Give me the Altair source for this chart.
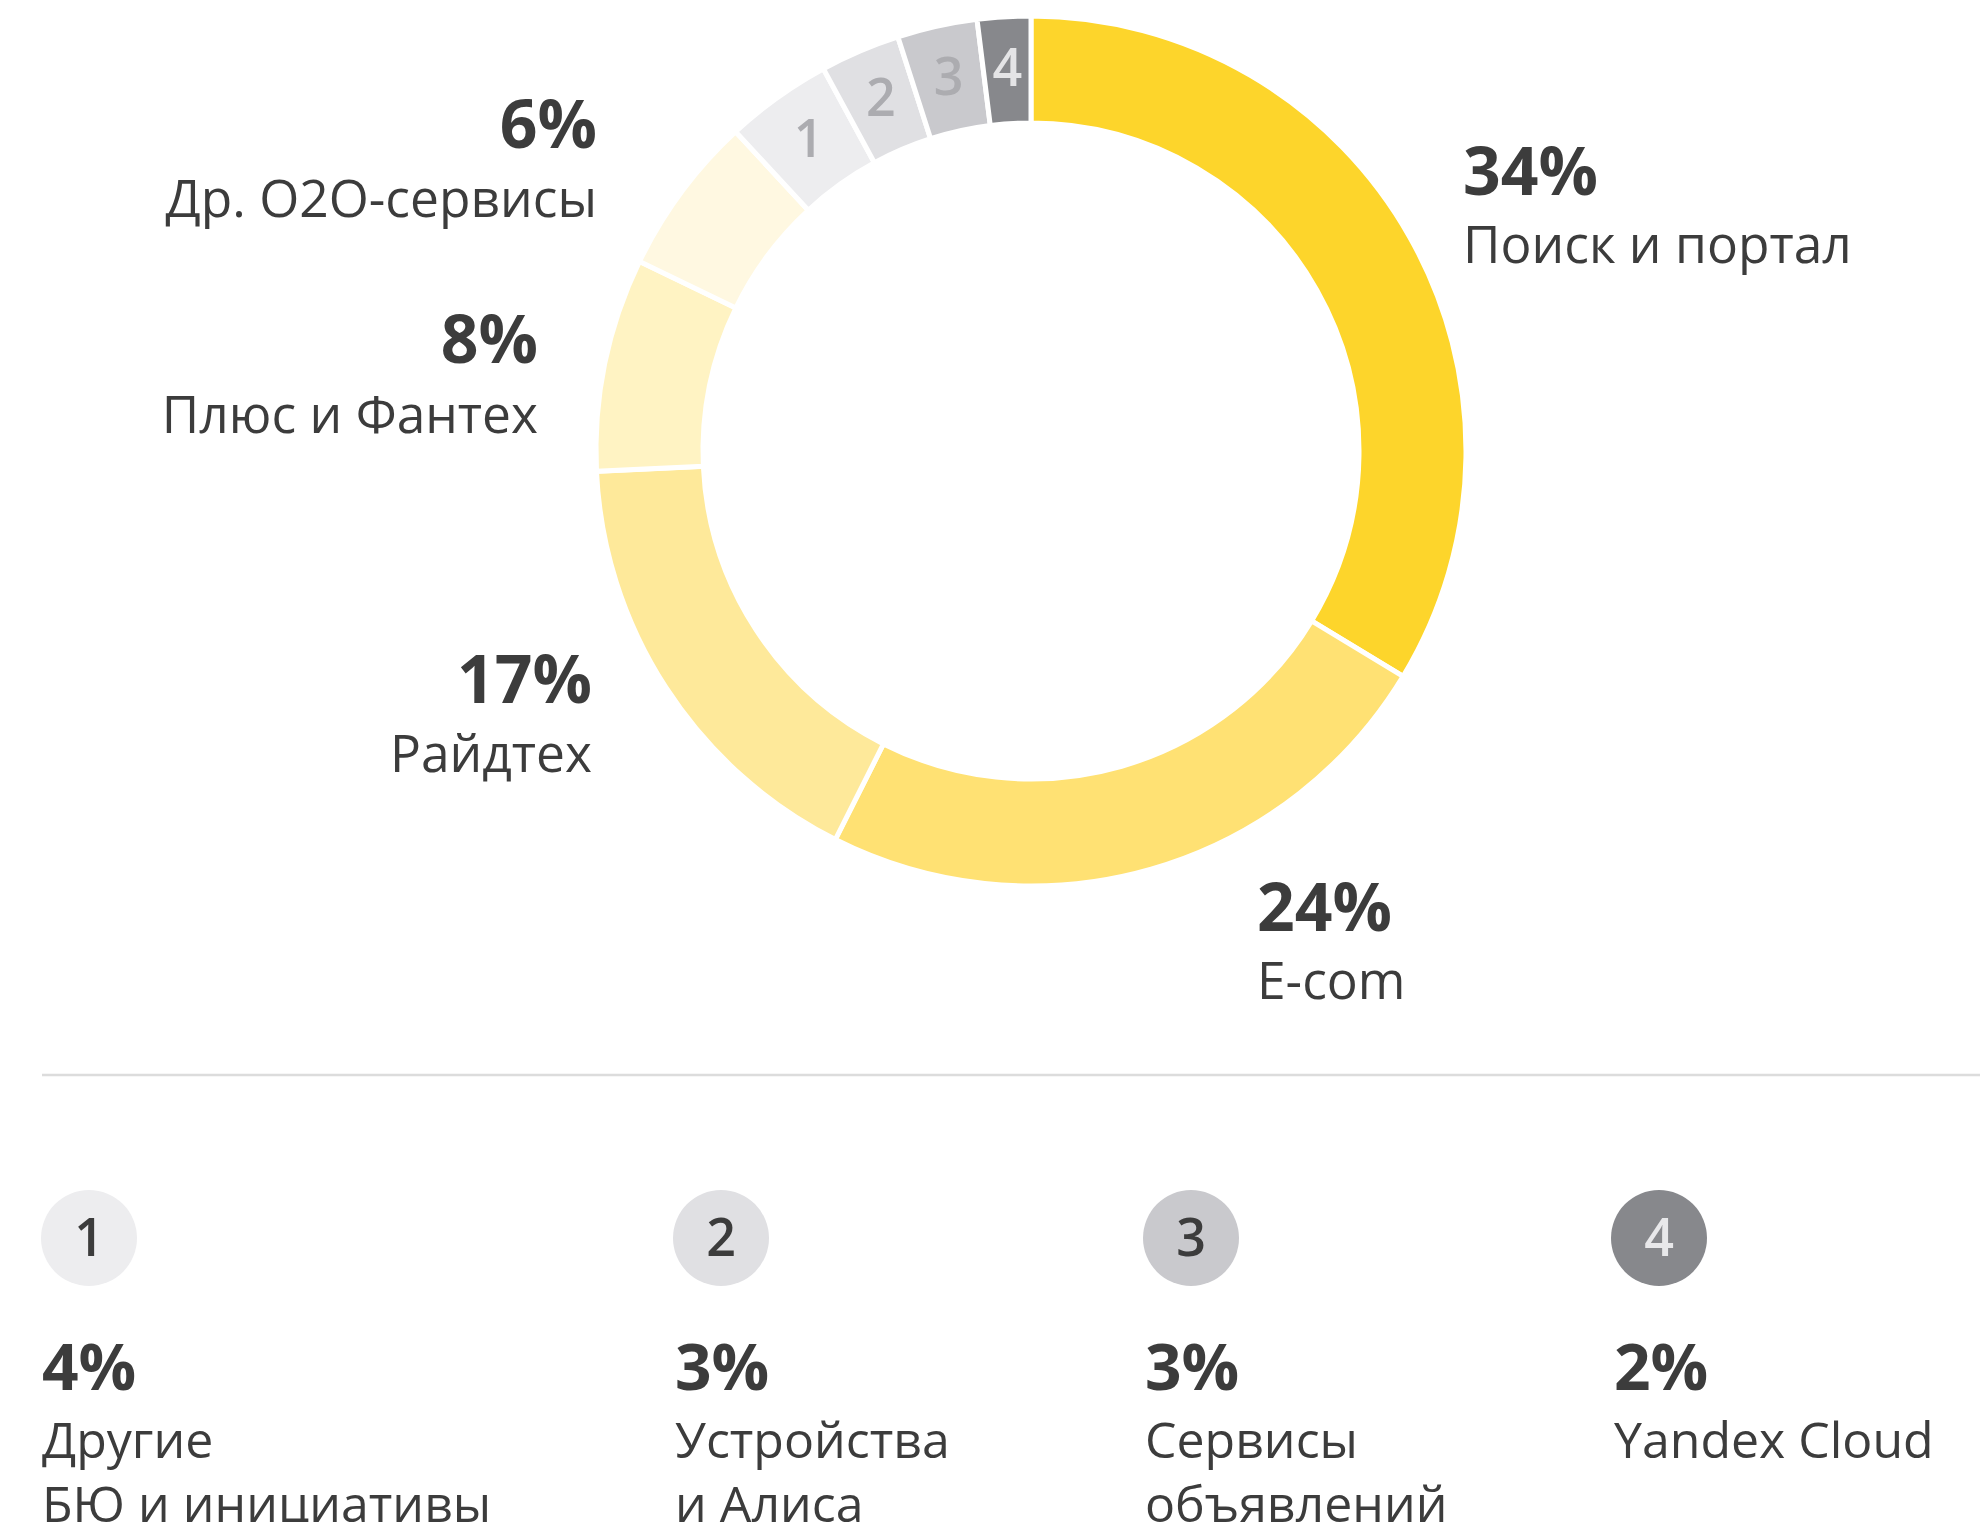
import altair as alt
import pandas as pd

# ---- data ----
categories = ["Поиск и портал", "E-com", "Райдтех", "Плюс и Фантех", "Др. O2O-сервисы",
              "Другие БЮ и инициативы", "Устройства и Алиса", "Сервисы объявлений", "Yandex Cloud"]
shares = [34, 24, 17, 8, 6, 4, 3, 3, 2]
markers = ["", "", "", "", "", "1", "2", "3", "4"]
seg_colors = ["#FDD52B", "#FFE173", "#FEE99A", "#FFF3C3", "#FFF8E1",
              "#EDEDEF", "#E0E0E3", "#C9C9CD", "#87888C"]
marker_colors = ["#FFFFFF", "#FFFFFF", "#FFFFFF", "#FFFFFF", "#FFFFFF",
                 "#ACACB0", "#ACACB0", "#ACACB0", "#E4E4E6"]
legend_num_colors = ["#3C3C3C", "#3C3C3C", "#3C3C3C", "#E8E8EA"]

# names split into lines as in the reference
outer_lines = [["Поиск и портал"], ["E-com"], ["Райдтех"], ["Плюс и Фантех"], ["Др. O2O-сервисы"]]
legend_lines = [["Другие", "БЮ и инициативы"], ["Устройства", "и Алиса"],
                ["Сервисы", "объявлений"], ["Yandex Cloud"]]

# ---- layout (page pixels, chart origin is at page (8, 8)) ----
M = 8
CX, CY = 1031 - M, 451 - M
R_OUT, R_IN = 435, 328
# anchor x, percent baseline, name baseline, side
outer_layout = [(1463, 195, 263, "left"), (1257, 931, 999, "left"),
                (592, 703, 772, "right"), (538, 363, 433, "right"),
                (597, 148, 217, "right")]
legend_text_x = [42, 675, 1145, 1614]
legend_circle_x = [89, 721, 1191, 1659]
LEG_CY = 1238
LEG_R = 48
LEG_PCT_Y = 1390
LEG_LINE_Y = [1458, 1522]

FONT = "Open Sans"
DARK = "#3C3C3C"

donut_df = pd.DataFrame({
    "idx": list(range(len(categories))),
    "cat": categories,
    "share": shares,
    "marker": markers,
    "color": seg_colors,
    "mcolor": marker_colors,
})

pct_rows, name_rows = [], []
for i in range(5):
    x, yp, yn, side = outer_layout[i]
    pct_rows.append({"x": x - M, "y": yp - M, "t": f"{shares[i]}%", "side": side, "grp": "top"})
    for k, ln in enumerate(outer_lines[i]):
        name_rows.append({"x": x - M, "y": yn - M, "t": ln, "side": side, "grp": "top"})
for j in range(4):
    i = 5 + j
    pct_rows.append({"x": legend_text_x[j] - M, "y": LEG_PCT_Y - M, "t": f"{shares[i]}%",
                     "side": "left", "grp": "legend"})
    for k, ln in enumerate(legend_lines[j]):
        name_rows.append({"x": legend_text_x[j] - M, "y": LEG_LINE_Y[k] - M, "t": ln,
                          "side": "left", "grp": "legend"})
pct_df = pd.DataFrame(pct_rows)
name_df = pd.DataFrame(name_rows)

leg_df = pd.DataFrame({
    "x": [v - M for v in legend_circle_x],
    "y": [LEG_CY - M] * 4,
    "num": markers[5:],
    "fill": seg_colors[5:],
    "ncol": legend_num_colors,
})

base = alt.Chart(donut_df)
arcs = base.mark_arc(outerRadius=R_OUT, innerRadius=R_IN, stroke="white", strokeWidth=5).encode(
    theta=alt.Theta("share:Q", stack=True),
    order=alt.Order("idx:Q"),
    color=alt.Color("color:N", scale=None),
    x=alt.value(CX), y=alt.value(CY),
)
seg_text = base.mark_text(radius=(R_OUT + R_IN) / 2, font=FONT, fontSize=52, fontWeight=600).encode(
    theta=alt.Theta("share:Q", stack=True),
    order=alt.Order("idx:Q"),
    text="marker:N",
    color=alt.Color("mcolor:N", scale=None),
    x=alt.value(CX), y=alt.value(CY),
)

def text_layer(df, side, grp, size, weight):
    return alt.Chart(df).transform_filter(
        (alt.datum.side == side) & (alt.datum.grp == grp)
    ).mark_text(
        align=side, baseline="alphabetic", font=FONT, fontSize=size, fontWeight=weight, color=DARK
    ).encode(
        x=alt.X("x:Q", scale=None),
        y=alt.Y("y:Q", scale=None),
        text="t:N",
    )

pct_l = text_layer(pct_df, "left", "top", 66, "bold")
pct_r = text_layer(pct_df, "right", "top", 66, "bold")
name_l = text_layer(name_df, "left", "top", 51.5, "normal")
name_r = text_layer(name_df, "right", "top", 51.5, "normal")
pct_leg = text_layer(pct_df, "left", "legend", 64, "bold")
name_leg = text_layer(name_df, "left", "legend", 50, "normal")

circles = alt.Chart(leg_df).mark_circle(size=(2 * LEG_R) ** 2, opacity=1).encode(
    x=alt.X("x:Q", scale=None), y=alt.Y("y:Q", scale=None),
    color=alt.Color("fill:N", scale=None),
)
circle_nums = alt.Chart(leg_df).mark_text(font=FONT, fontSize=52, fontWeight=600, baseline="middle", dy=2).encode(
    x=alt.X("x:Q", scale=None), y=alt.Y("y:Q", scale=None),
    text="num:N",
    color=alt.Color("ncol:N", scale=None),
)

rule = alt.Chart(pd.DataFrame({"a": [0]})).mark_rule(color="#DCDCDC", strokeWidth=2.5).encode(
    x=alt.value(42 - M), x2=alt.value(1988 - M), y=alt.value(1075 - M)
)

chart = alt.layer(
    arcs, seg_text, pct_l, pct_r, name_l, name_r, pct_leg, name_leg, rule, circles, circle_nums
).properties(
    width=1972, height=1514, autosize=alt.AutoSizeParams(type="none"), padding=0,
    background="white",
).configure_view(strokeWidth=0)

chart.save("out.html", embed_options={"renderer": "svg", "actions": False})
